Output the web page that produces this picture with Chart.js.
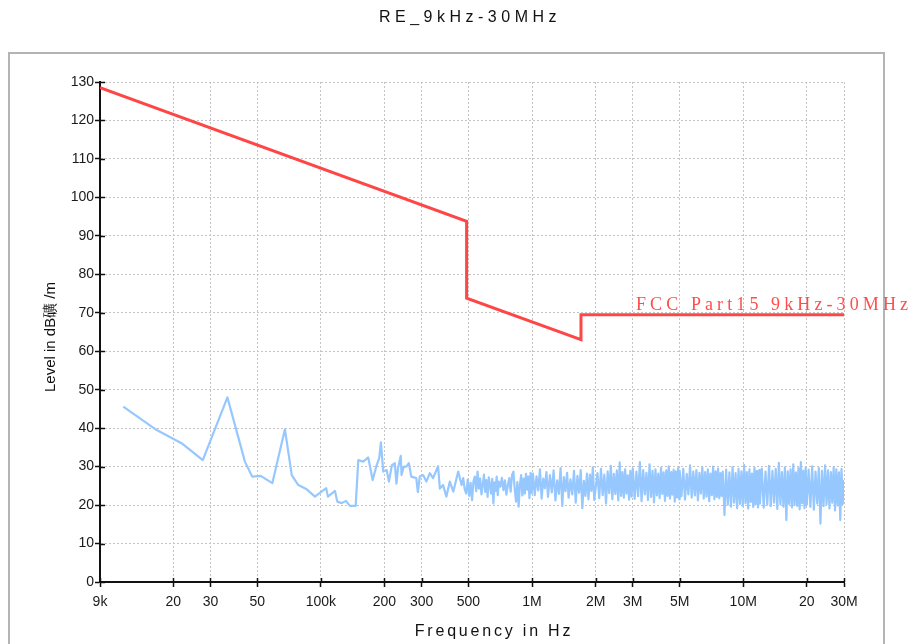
<!DOCTYPE html>
<html>
<head>
<meta charset="utf-8">
<script src="https://cdn.jsdelivr.net/npm/chart.js@4"></script>
<style>
  body { margin: 0; background: #fff; }
  canvas { display: block; }
</style>
</head>
<body>
<canvas id="myChart" width="912" height="644"></canvas>
<script>
// limit line (FCC Part15 9kHz-30MHz), Hz / dBuV/m
const limitFreq = [9000, 490000, 490000, 1705000, 1705000, 30000000];
const limitLevel = [128.5, 93.8, 73.8, 63.0, 69.5, 69.5];

// measured trace, 9k - 470k (kHz)
const lowFreqKHz = [
  11.6, 16.7, 21.9, 27.6, 36.1, 43.7, 47.3, 51.9, 58.9, 67.6,
  72.8, 78.2, 85.7, 93.8, 106, 108, 116.6, 119.6, 125.4, 131.4,
  137.3, 146.2, 150.4, 158.8, 167.6, 175.9, 183.8, 189, 192.5, 197.4,
  205, 210, 217, 224, 228, 232, 239, 241, 247, 254,
  261, 268, 283, 288, 294, 305, 316, 328, 340, 359,
  366, 379, 393, 408, 424, 447, 464
];
const lowLevel = [
  45.6, 39.5, 36.1, 31.7, 48.0, 31.3, 27.4, 27.6, 25.7, 39.7,
  27.8, 25.2, 24.1, 22.2, 24.4, 22.2, 23.7, 20.9, 20.5, 21.1,
  19.8, 19.8, 31.7, 31.3, 32.4, 26.5, 30.4, 32.2, 36.3, 28.7,
  29.1, 26.1, 30.4, 30.9, 25.6, 29.6, 32.8, 27.8, 30.0, 30.0,
  30.9, 27.4, 27.0, 23.4, 27.4, 27.8, 26.1, 28.3, 27.0, 30.1,
  24.3, 25.2, 22.2, 26.1, 23.5, 28.7, 25.2
];

// measured trace, 470k - 2M (kHz)
const midFreqKHz = [
  472, 480, 488, 496, 504, 512, 520, 528, 536, 544, 552, 560, 568, 576, 584,
  592, 600, 608, 616, 624, 632, 640, 648, 656, 664, 672, 680, 688, 696,
  708, 720, 732, 744, 756, 768, 780, 792, 804, 816, 828, 840, 852, 864, 876,
  888, 900, 912, 924, 936, 948, 960, 972, 984, 996,
  1010, 1030, 1050, 1070, 1090, 1110, 1130, 1150, 1170, 1190,
  1215, 1240, 1265, 1290, 1315, 1340, 1365, 1390, 1415, 1440, 1465, 1490,
  1520, 1550, 1580, 1610, 1640, 1670, 1700, 1730, 1760, 1790, 1820, 1850,
  1880, 1910, 1940, 1970
];
const midLevel = [
  27.0, 24.1, 23.0, 26.6, 22.4, 25.8, 21.3, 26.2, 27.4, 23.6, 28.7, 24.3, 26.9, 22.8, 25.2,
  27.9, 23.4, 26.5, 22.1, 27.2, 25.2, 23.0, 26.8, 20.4, 25.9, 23.7, 27.4, 22.6, 26.1,
  24.8, 27.1, 23.9, 26.4, 22.7, 25.2, 27.0, 23.5, 27.8, 28.7, 24.2, 20.9, 26.0, 19.6, 25.3,
  27.8, 22.5, 26.9, 23.0, 28.1, 24.0, 27.4, 21.8, 28.4, 23.1,
  28.2, 22.6, 27.5, 23.8, 29.3, 21.7, 26.9, 24.4, 28.6, 22.1,
  27.8, 23.3, 29.0, 21.2, 26.4, 22.9, 29.6, 19.8, 27.3, 23.6, 28.4, 21.9,
  26.7, 22.8, 28.9, 20.6, 27.6, 23.2, 29.1, 19.2, 26.3, 22.4, 28.2, 21.5,
  27.9, 23.7, 29.8, 21.3
];

// measured trace, 2M - 30M (MHz)
const highFreqMHz = [
  2.04, 2.08, 2.12, 2.16, 2.2, 2.24, 2.28, 2.32, 2.36, 2.4, 2.44, 2.48, 2.52,
  2.56, 2.6, 2.64, 2.68, 2.72, 2.76, 2.8, 2.84, 2.88, 2.92, 2.96, 3.0,
  3.06, 3.12, 3.18, 3.24, 3.3, 3.36, 3.42, 3.48, 3.54, 3.6, 3.66, 3.72, 3.78,
  3.84, 3.9, 3.96, 4.02, 4.08, 4.14, 4.2, 4.26, 4.32, 4.38, 4.44, 4.5, 4.56,
  4.62, 4.68, 4.74, 4.8, 4.86, 4.92, 4.98,
  5.0, 5.1, 5.2, 5.3, 5.4, 5.5, 5.6, 5.7, 5.8, 5.9, 6.0, 6.1, 6.2, 6.3, 6.4,
  6.5, 6.6, 6.7, 6.8, 6.9, 7.0, 7.1, 7.2, 7.3, 7.4, 7.5, 7.6, 7.7, 7.8, 7.9,
  8.0, 8.15, 8.3, 8.45, 8.6, 8.75, 8.9, 9.05, 9.2, 9.35, 9.5, 9.65, 9.8, 9.95,
  10.1, 10.25, 10.4, 10.55, 10.7, 10.85, 11.0, 11.15, 11.3, 11.45, 11.6, 11.75, 11.9,
  12.0, 12.25, 12.5, 12.75, 13.0, 13.25, 13.5, 13.75, 14.0, 14.25, 14.5, 14.75,
  15.0, 15.25, 15.5, 15.75, 16.0, 16.25, 16.5, 16.75, 17.0, 17.25, 17.5, 17.75,
  18.0, 18.25, 18.5, 18.75, 19.0, 19.25, 19.5, 19.75,
  20.0, 20.4, 20.8, 21.2, 21.6, 22.0, 22.4, 22.8, 23.2, 23.6, 24.0, 24.4, 24.8,
  25.2, 25.6, 26.0, 26.4, 26.8, 27.2, 27.6, 28.0, 28.4, 28.8, 29.2, 29.6, 30.0
];
const highLevel = [
  28.3, 21.8, 29.4, 22.6, 27.9, 20.4, 28.8, 23.1, 30.2, 21.5, 28.1, 22.9, 29.0,
  21.2, 31.1, 22.4, 28.6, 21.9, 29.3, 23.0, 27.7, 21.4, 28.9, 22.2, 29.5,
  21.6, 28.7, 22.3, 31.2, 21.0, 29.1, 22.8, 28.4, 21.3, 30.6, 22.1, 28.9, 20.7,
  29.3, 22.5, 28.2, 21.8, 29.7, 22.9, 28.5, 21.1, 29.0, 22.4, 30.1, 21.7, 28.6,
  22.7, 29.2, 20.9, 28.8, 22.0, 29.6, 21.5,
  28.9, 22.3, 29.4, 21.4, 28.1, 22.8, 30.3, 21.9, 28.7, 22.5, 29.1, 21.2, 28.4, 23.0, 29.8,
  21.7, 28.6, 22.2, 29.3, 21.0, 28.2, 22.6, 30.0, 21.5, 28.8, 22.1, 29.5, 21.8, 28.3, 22.4,
  28.7, 17.4, 29.2, 20.1, 28.5, 19.6, 29.9, 20.6, 28.3, 19.2, 29.4, 20.3, 28.8, 19.8,
  30.4, 20.5, 28.6, 19.1, 29.3, 20.8, 28.2, 19.5, 29.7, 20.2, 28.9, 19.4, 29.1,
  20.4, 29.5, 19.3, 28.7, 20.1, 30.2, 19.7, 28.9, 20.6, 29.4, 19.0, 31.0,
  20.2, 28.6, 19.6, 29.8, 16.1, 28.8, 20.3, 29.3, 19.4, 30.6, 20.0, 28.5,
  19.8, 29.6, 18.9, 31.2, 20.5, 28.9, 19.2, 29.7,
  20.1, 29.2, 19.5, 30.1, 18.8, 28.7, 20.4, 29.6, 15.2, 28.9, 19.7, 30.3, 20.2,
  29.0, 19.1, 28.6, 20.6, 29.8, 18.6, 29.3, 19.9, 28.5, 16.1, 29.4, 20.3, 26.5
];

// x axis ticks
const xTickValues = [9e3, 2e4, 3e4, 5e4, 1e5, 2e5, 3e5, 5e5, 1e6, 2e6, 3e6, 5e6, 1e7, 2e7, 3e7];
const xTickLabels = ["9k", "20", "30", "50", "100k", "200", "300", "500", "1M", "2M", "3M", "5M", "10M", "20", "30M"];

const SANS = '"Liberation Sans", Arial, sans-serif';

function toPoints(freqs, levels, mult) {
  return freqs.map(function (f, i) {
    return { x: f * mult, y: levels[i] };
  });
}

let trace = toPoints(lowFreqKHz, lowLevel, 1e3)
  .concat(toPoints(midFreqKHz, midLevel, 1e3))
  .concat(toPoints(highFreqMHz, highLevel, 1e6));
let limit = toPoints(limitFreq, limitLevel, 1);

// frame, titles, limit label and inner tick marks
const decor = {
  id: "decor",
  beforeDraw(chart) {
    const ctx = chart.ctx;
    ctx.save();
    ctx.fillStyle = "#fff";
    ctx.fillRect(0, 0, chart.width, chart.height);
    ctx.strokeStyle = "#b4b4b4";
    ctx.lineWidth = 2;
    ctx.strokeRect(9, 53, 875, 700);
    ctx.restore();
  },
  afterDraw(chart) {
    const ctx = chart.ctx;
    const xs = chart.scales.x;
    const ys = chart.scales.y;
    const area = chart.chartArea;
    ctx.save();

    // inner halves of the tick marks
    ctx.strokeStyle = "#111";
    ctx.lineWidth = 1.5;
    ctx.beginPath();
    ys.ticks.forEach(function (t) {
      const py = Math.round(ys.getPixelForValue(t.value)) + 0.5;
      ctx.moveTo(area.left, py);
      ctx.lineTo(area.left + 5, py);
    });
    xs.ticks.forEach(function (t) {
      const px = Math.round(xs.getPixelForValue(t.value)) + 0.5;
      ctx.moveTo(px, area.bottom);
      ctx.lineTo(px, area.bottom - 4);
    });
    ctx.stroke();

    ctx.fillStyle = "#111";
    ctx.textBaseline = "middle";
    ctx.textAlign = "center";

    // title
    ctx.font = "16px " + SANS;
    ctx.letterSpacing = "4.5px";
    ctx.fillText("RE_9kHz-30MHz", 470, 18);

    // x title
    ctx.letterSpacing = "2.8px";
    ctx.fillText("Frequency in Hz", 494, 632);

    // y title
    ctx.letterSpacing = "0px";
    ctx.font = "15px " + SANS;
    ctx.save();
    ctx.translate(51, 337);
    ctx.rotate(-Math.PI / 2);
    ctx.fillText("Level in dB礦 /m", 0, 0);
    ctx.restore();

    // limit label
    ctx.fillStyle = "#ff4d4d";
    ctx.textAlign = "left";
    ctx.textBaseline = "alphabetic";
    ctx.font = '18px "Liberation Serif", serif';
    ctx.letterSpacing = "4.1px";
    ctx.fillText("FCC Part15 9kHz-30MHz", 636, 310);
    ctx.restore();
  }
};

let ctx = document.getElementById("myChart").getContext("2d");
let chart = new Chart(ctx, {
  type: "line",
  data: {
    datasets: [
      {
        label: "FCC Part15 9kHz-30MHz",
        data: limit,
        borderColor: "#ff4646",
        borderWidth: 3,
        pointRadius: 0,
        fill: false,
        tension: 0,
      },
      {
        label: "RE",
        data: trace,
        borderColor: "rgb(150, 200, 255)",
        borderWidth: 2.2,
        borderJoinStyle: "round",
        pointRadius: 0,
        fill: false,
        tension: 0,
      },
    ],
  },
  options: {
    responsive: false,
    animation: false,
    devicePixelRatio: 1,
    layout: { padding: { top: 82, right: 68, left: 0, bottom: 0 } },
    plugins: {
      legend: { display: false },
      tooltip: { enabled: false },
    },
    scales: {
      x: {
        type: "logarithmic",
        min: 9000,
        max: 30000000,
        afterBuildTicks: function (scale) {
          scale.ticks = xTickValues.map(function (v) {
            return { value: v };
          });
        },
        afterFit: function (scale) {
          scale.height = 62;
        },
        ticks: {
          autoSkip: false,
          maxRotation: 0,
          padding: 7,
          color: "#1a1a1a",
          font: { size: 14, family: SANS },
          callback: function (value, index) {
            return xTickLabels[index];
          },
        },
        grid: {
          color: "#c4c4c4",
          lineWidth: 1,
          tickColor: "#111",
          tickWidth: 1.5,
          tickLength: 5,
        },
        border: { color: "#111", width: 2, dash: [2, 2] },
      },
      y: {
        min: 0,
        max: 130,
        afterFit: function (scale) {
          scale.width = 100;
        },
        ticks: {
          stepSize: 5,
          padding: 1,
          color: "#1a1a1a",
          font: { size: 14, family: SANS },
          callback: function (value) {
            return value % 10 === 0 ? value : "";
          },
        },
        grid: {
          color: "#c4c4c4",
          lineWidth: 1,
          tickColor: "#111",
          tickWidth: 1.5,
          tickLength: 5,
        },
        border: { color: "#111", width: 2, dash: [2, 2] },
      },
    },
  },
  plugins: [decor],
});
</script>
</body>
</html>
